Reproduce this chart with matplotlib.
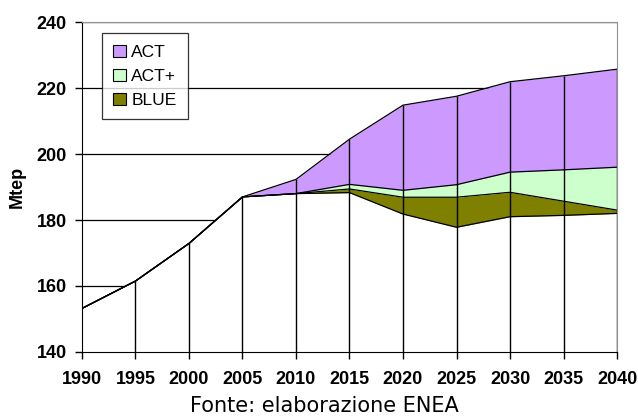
import numpy as np
import matplotlib.pyplot as plt
from matplotlib.patches import Patch

years = [1990, 1995, 2000, 2005, 2010, 2015, 2020, 2025, 2030, 2035, 2040]

# lower edge of coloured bands (white area below)
base = [153.2, 161.5, 172.9, 187.0, 188.0, 188.3, 181.8, 177.8, 181.0, 181.4, 182.0]
# top of each band
blue_top = [153.2, 161.5, 172.9, 187.0, 188.0, 189.4, 186.9, 186.9, 188.4, 185.7, 183.0]
actp_top = [153.2, 161.5, 172.9, 187.0, 188.0, 190.8, 189.0, 190.7, 194.5, 195.2, 196.0]
act_top = [153.2, 161.5, 172.9, 187.0, 192.3, 204.5, 214.8, 217.5, 221.9, 223.7, 225.7]

c_act = '#CC99FF'
c_actp = '#CCFFCC'
c_blue = '#808000'

fig = plt.figure(figsize=(6.38, 4.17), dpi=100)
ax = fig.add_axes([0.1285, 0.1559, 0.9671 - 0.1285, 0.9472 - 0.1559])

# gridlines behind everything
for g in [160, 180, 200, 220, 240]:
    ax.axhline(g, color='black', lw=0.9, zorder=0)

x = np.array(years)
ax.fill_between(x, 140, base, color='white', zorder=1)
ax.fill_between(x, base, blue_top, color=c_blue, lw=0, zorder=2)
ax.fill_between(x, blue_top, actp_top, color=c_actp, lw=0, zorder=2)
ax.fill_between(x, actp_top, act_top, color=c_act, lw=0, zorder=2)

for top in [base, blue_top, actp_top, act_top]:
    ax.plot(x, top, color='black', lw=0.9, zorder=3)

# drop lines
ax.vlines(x[1:], 140, act_top[1:], color='black', lw=1.0, zorder=3)

ax.set_xlim(1990, 2040)
ax.set_ylim(140, 240)
ax.set_xticks(years)
ax.set_yticks([140, 160, 180, 200, 220, 240])
for lab in ax.get_xticklabels() + ax.get_yticklabels():
    lab.set_fontweight('bold')
    lab.set_fontfamily('Liberation Sans')
    lab.set_fontsize(13)
ax.tick_params(axis='both', length=5, width=1, color='black', direction='out')
ax.tick_params(axis='y', pad=6)
ax.tick_params(axis='x', pad=9)

ax.spines['top'].set_color('#909090')
ax.spines['right'].set_color('#909090')
ax.spines['left'].set_color('black')
ax.spines['bottom'].set_color('black')
for s in ax.spines.values():
    s.set_zorder(4)

ax.set_ylabel('Mtep', fontweight='bold', fontfamily='Liberation Sans', fontsize=13, labelpad=8)

handles = [Patch(facecolor=c_act, edgecolor='black', lw=0.8),
           Patch(facecolor=c_actp, edgecolor='black', lw=0.8),
           Patch(facecolor=c_blue, edgecolor='black', lw=0.8)]
leg = ax.legend(handles, ['ACT', 'ACT+', 'BLUE'], loc='upper left',
                bbox_to_anchor=(0.037, 0.966), frameon=True, fancybox=False,
                edgecolor='black', prop={'family': 'Liberation Sans', 'size': 12.5},
                handlelength=0.75, handleheight=0.75, handletextpad=0.3,
                labelspacing=0.5, borderpad=0.65, borderaxespad=0)
leg.get_frame().set_linewidth(0.9)
leg.set_zorder(5)

fig.text(0.509, 0.003, 'Fonte: elaborazione ENEA', ha='center', va='bottom',
         fontfamily='DejaVu Sans', fontsize=15)

plt.savefig('out.png', dpi=100)
